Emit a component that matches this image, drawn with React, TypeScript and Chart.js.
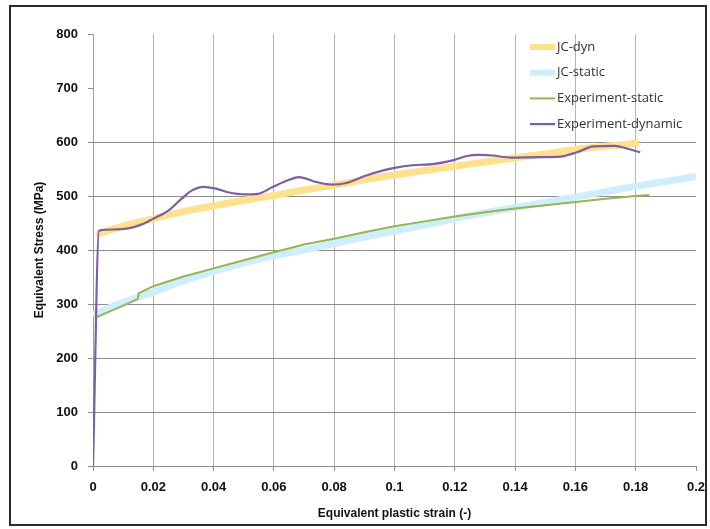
import React, { useEffect, useRef } from "react";
import { Chart, registerables } from "chart.js";

Chart.register(...registerables);

// ---- data ----
const jcDynX = [0.001, 0.005, 0.01, 0.02, 0.03, 0.04, 0.05, 0.06, 0.07, 0.08, 0.09, 0.1, 0.11, 0.12, 0.13, 0.14, 0.15, 0.16, 0.17, 0.181];
const jcDynY = [428, 436, 444, 458, 471, 482, 492, 501, 511, 520, 530, 539, 547, 555, 563, 571, 578, 586, 592, 598];

const jcStaticX = [0.0, 0.005, 0.01, 0.015, 0.02, 0.03, 0.04, 0.05, 0.06, 0.07, 0.08, 0.09, 0.1, 0.11, 0.12, 0.13, 0.14, 0.15, 0.16, 0.17, 0.18, 0.19, 0.2];
const jcStaticY = [279, 292, 303, 313, 322, 343, 361, 376, 390, 400, 412, 424, 435, 446, 458, 469, 479, 488, 498, 508, 518, 527, 536];

const expStaticX = [0.0013, 0.005, 0.01, 0.0148, 0.0152, 0.02, 0.03, 0.04, 0.05, 0.06, 0.07, 0.08, 0.09, 0.1, 0.11, 0.12, 0.13, 0.14, 0.15, 0.16, 0.17, 0.18, 0.1845];
const expStaticY = [276, 285, 297, 309, 320, 333, 351, 366, 381, 396, 410, 421, 433, 444, 453, 462, 470, 477, 483, 489, 495, 500, 502];

const expDynX = [0, 0.002, 0.007, 0.0117, 0.016, 0.02, 0.025, 0.0294, 0.0327, 0.0366, 0.0405, 0.0448, 0.0504, 0.0547, 0.0597, 0.0647, 0.0683, 0.074, 0.0795, 0.084, 0.0906, 0.096, 0.1, 0.106, 0.1126, 0.12, 0.124, 0.128, 0.1325, 0.1385, 0.148, 0.155, 0.1605, 0.166, 0.173, 0.177, 0.1815];
const expDynY = [0, 436, 438, 440, 447, 458, 473, 495, 510, 517, 514, 507, 503, 504, 517, 529, 535, 526, 521, 524, 538, 547, 552, 557, 559, 567, 574, 576, 575, 571, 572, 573, 581, 592, 593, 588, 581];

const seriesLabels = ["JC-dyn", "JC-static", "Experiment-static", "Experiment-dynamic"];
const xTitle = "Equivalent plastic strain (-)";
const yTitle = "Equivalent Stress (MPa)";

const zip = (xs: number[], ys: number[]) => xs.map((x, i) => ({ x, y: ys[i] }));

const framePlugin = {
  id: "frame",
  beforeDraw(chart: any) {
    const { ctx } = chart;
    ctx.save();
    ctx.fillStyle = "#ffffff";
    ctx.fillRect(0, 0, chart.width, chart.height);
    ctx.strokeStyle = "#2a2a2a";
    ctx.lineWidth = 2;
    ctx.strokeRect(10, 6, 696, 519);
    ctx.restore();
  },
};

const legendPlugin = {
  id: "insideLegend",
  afterDraw(chart: any) {
    const { ctx, chartArea } = chart;
    ctx.save();
    chart.data.datasets.forEach((ds: any, i: number) => {
      const y = chartArea.top + 13 + i * 25.7;
      const x0 = chartArea.right - 166;
      ctx.strokeStyle = ds.borderColor;
      ctx.lineWidth = Math.min(ds.borderWidth, 6);
      ctx.lineCap = "butt";
      ctx.beginPath();
      ctx.moveTo(x0, y);
      ctx.lineTo(x0 + 25, y);
      ctx.stroke();
      ctx.fillStyle = "#333333";
      ctx.font = "13px 'Open Sans', 'Liberation Sans', sans-serif";
      ctx.textAlign = "left";
      ctx.textBaseline = "middle";
      ctx.fillText(ds.label, x0 + 27, y);
    });
    ctx.restore();
  },
};

const near = (a: number, b: number) => Math.abs(a - b) < 1e-6;

export default function App() {
  const ref = useRef<HTMLCanvasElement | null>(null);
  useEffect(() => {
    if (!ref.current) return;
    const tickFont = { family: "'Liberation Sans', Arial, sans-serif", size: 13, weight: "bold" as const };
    const titleFont = { family: "'Liberation Sans', Arial, sans-serif", size: 12, weight: "bold" as const };
    const chart = new Chart(ref.current, {
      type: "line",
      data: {
        datasets: [
          {
            label: seriesLabels[0],
            data: zip(jcDynX, jcDynY),
            borderColor: "#ffe08f",
            borderWidth: 7,
            pointRadius: 0,
            tension: 0.3,
            order: 4,
          },
          {
            label: seriesLabels[1],
            data: zip(jcStaticX, jcStaticY),
            borderColor: "#cdeefa",
            borderWidth: 7,
            pointRadius: 0,
            tension: 0.3,
            order: 3,
          },
          {
            label: seriesLabels[2],
            data: zip(expStaticX, expStaticY),
            borderColor: "#94b64f",
            borderWidth: 2,
            pointRadius: 0,
            tension: 0,
            order: 2,
          },
          {
            label: seriesLabels[3],
            data: zip(expDynX, expDynY),
            borderColor: "#7b5ea3",
            borderWidth: 2.2,
            pointRadius: 0,
            cubicInterpolationMode: "monotone",
            order: 1,
          },
        ],
      },
      options: {
        responsive: false,
        animation: false,
        layout: { padding: { left: 0, top: 34, right: 14, bottom: 0 } },
        plugins: { legend: { display: false }, tooltip: { enabled: false } },
        scales: {
          x: {
            type: "linear",
            min: 0,
            max: 0.2,
            afterFit: (s: any) => { s.height = 63; s.paddingLeft = 0; s.paddingRight = 0; },
            ticks: {
              stepSize: 0.02,
              color: "#111",
              font: tickFont,
              padding: 9,
              maxRotation: 0,
              callback: (v: any) => String(Number(Number(v).toFixed(2))),
            },
            grid: {
              color: (c: any) => (c.tick && (near(c.tick.value, 0.2) || near(c.tick.value, 0)) ? "rgba(0,0,0,0)" : "#b4b4b4"),
              tickColor: "#8c8c8c",
              tickLength: 5,
              lineWidth: 1,
            },
            border: { display: true, color: "#8c8c8c", width: 1 },
            title: { display: true, text: xTitle, font: titleFont, color: "#111", padding: { top: 0, bottom: 8 } },
          },
          y: {
            min: 0,
            max: 800,
            afterFit: (s: any) => { s.width = 93; s.paddingTop = 0; s.paddingBottom = 0; },
            ticks: { stepSize: 100, color: "#111", font: tickFont, padding: 10 },
            grid: {
              color: (c: any) => (c.tick && (c.tick.value >= 700 || c.tick.value === 0) ? "rgba(0,0,0,0)" : "#8c8c8c"),
              tickColor: "#8c8c8c",
              tickLength: 5,
              lineWidth: 1,
            },
            border: { display: true, color: "#a0a0a0", width: 1 },
            title: { display: true, text: yTitle, font: titleFont, color: "#111", padding: { top: 32, bottom: 0 } },
          },
        },
      } as any,
      plugins: [framePlugin, legendPlugin],
    });
    return () => chart.destroy();
  }, []);
  return (
    <div style={{ position: "absolute", left: 0, top: 0 }}>
      <canvas ref={ref} width={710} height={529} style={{ display: "block" }} />
    </div>
  );
}
